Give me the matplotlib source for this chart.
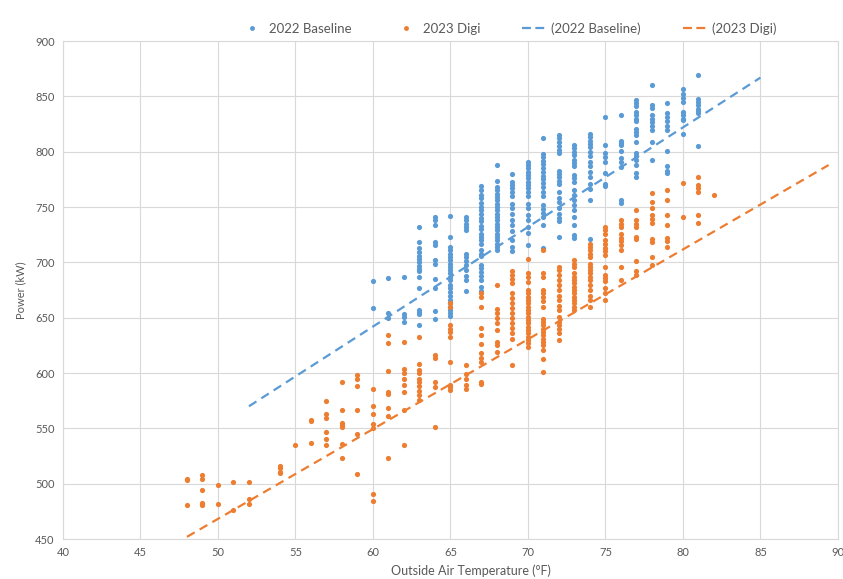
import matplotlib
matplotlib.use('Agg')
import matplotlib.pyplot as plt
from matplotlib.lines import Line2D

plt.rcParams['font.family'] = ['Lato', 'DejaVu Sans']

# outside air temperature (F) -> power readings (kW)
baseline_2022 = {
    60: [683, 659],
    61: [686, 654, 650],
    62: [687, 653, 651, 646],
    63: [732, 718, 713, 709, 706, 703, 700, 697, 694, 692, 687, 677, 657, 655, 653, 643],
    64: [741, 738, 734, 718, 716, 702, 699, 685, 677, 656, 649],
    65: [742, 723, 714, 711, 708, 705, 702, 699, 696, 693, 690, 687, 684, 680, 677, 673,
         670, 666, 663, 660, 657, 654, 652],
    66: [741, 738, 735, 732, 729, 708, 705, 701, 698, 693, 688, 684, 674],
    67: [769, 765, 761, 758, 754, 750, 747, 744, 740, 737, 733, 730, 726, 723, 720, 717,
         711, 708, 706, 698, 695, 691, 688, 684, 678, 674],
    68: [788, 774, 768, 765, 762, 759, 756, 753, 750, 747, 744, 741, 738, 735, 732, 729,
         726, 723, 720, 717, 714, 711],
    69: [780, 773, 770, 767, 764, 760, 753, 749, 744, 738, 734, 728, 720, 714, 710],
    70: [791, 788, 785, 782, 779, 776, 773, 770, 767, 764, 760, 753, 749, 743, 738, 732,
         727, 716],
    71: [812, 798, 795, 792, 789, 785, 782, 778, 775, 772, 768, 764, 760, 752, 748, 745,
         741, 734, 713],
    72: [815, 812, 809, 805, 802, 799, 783, 780, 777, 774, 771, 764, 758, 755, 749, 744,
         740, 737, 723],
    73: [806, 803, 800, 797, 793, 790, 787, 779, 776, 773, 765, 761, 756, 752, 747, 741,
         734, 725, 722],
    74: [816, 813, 810, 807, 804, 800, 796, 791, 787, 782, 777, 771, 766, 756, 721],
    75: [831, 806, 799, 795, 791, 781, 771, 769],
    76: [833, 810, 808, 806, 801, 794, 791, 786, 756, 754],
    77: [847, 844, 841, 836, 833, 830, 828, 821, 818, 815, 809, 799, 796, 793, 788, 781, 777],
    78: [860, 842, 840, 833, 830, 827, 823, 820, 809, 793],
    79: [844, 835, 831, 828, 823, 820, 801, 787, 783, 781],
    80: [857, 852, 849, 845, 836, 833, 830, 829, 816],
    81: [869, 848, 845, 842, 839, 837, 835, 805],
}

digi_2023 = {
    48: [504, 503, 481],
    49: [508, 504, 494, 483, 481, 482],
    50: [499, 482],
    51: [502, 476],
    52: [502, 486, 482],
    54: [516, 514, 510, 511],
    55: [535],
    56: [558, 557, 537],
    57: [575, 563, 559, 547, 540, 535],
    58: [592, 567, 555, 553, 551, 536, 523],
    59: [598, 595, 588, 567, 545, 509],
    60: [586, 570, 563, 554, 550, 491, 484],
    61: [634, 627, 602, 583, 581, 568, 561, 523],
    62: [628, 604, 600, 595, 589, 583, 567, 535],
    63: [633, 608, 603, 600, 595, 592, 588, 584, 580, 576],
    64: [616, 614, 592, 587, 551],
    65: [663, 660, 643, 640, 637, 633, 610, 589, 587, 585],
    66: [607, 599, 595, 589, 586],
    67: [672, 669, 660, 641, 634, 626, 618, 614, 610, 592, 590],
    68: [680, 658, 654, 650, 645, 639, 628, 625, 619],
    69: [692, 689, 685, 681, 672, 668, 663, 659, 654, 650, 645, 641, 636, 631, 607],
    70: [703, 690, 687, 682, 675, 672, 669, 666, 663, 660, 657, 654, 651, 648, 645, 642,
         639, 636, 633, 630, 627, 624],
    71: [711, 690, 687, 675, 672, 669, 665, 660, 649, 646, 643, 640, 637, 634, 631, 628,
         625, 621, 613, 601],
    72: [696, 693, 689, 684, 680, 675, 670, 666, 661, 657, 651, 646, 643, 640, 636, 630],
    73: [702, 699, 696, 690, 687, 684, 681, 678, 675, 672, 669, 666, 663, 660, 657],
    74: [717, 714, 711, 708, 705, 699, 696, 693, 690, 687, 684, 680, 675, 670, 666, 660],
    75: [732, 729, 726, 720, 717, 713, 710, 707, 696, 689, 686, 683, 677, 672, 666],
    76: [738, 735, 732, 726, 722, 719, 716, 711, 696, 684],
    77: [747, 738, 735, 732, 723, 721, 701, 692, 689],
    78: [763, 755, 749, 743, 739, 736, 721, 718, 705, 698],
    79: [765, 756, 743, 734, 722, 719, 714],
    80: [772, 741],
    81: [777, 770, 767, 764, 743, 736],
    82: [761],
}

# linear trendline end points as drawn
trend_2022_x = [52, 85]
trend_2022_y = [570, 867]
trend_2023_x = [48, 89.4]
trend_2023_y = [452, 788]

blue = '#5B9BD5'
orange = '#ED7D31'
grey = '#595959'


def flatten(d):
    xs, ys = [], []
    for t, vals in d.items():
        xs += [t] * len(vals)
        ys += vals
    return xs, ys


bx, by = flatten(baseline_2022)
ox, oy = flatten(digi_2023)

fig = plt.figure(figsize=(8.43, 5.79), dpi=100)
ax = fig.add_axes([0.0747, 0.069, 0.9193, 0.86])

ax.scatter(bx, by, s=14, color=blue, linewidths=0, zorder=3)
ax.scatter(ox, oy, s=14, color=orange, linewidths=0, zorder=3)
ax.plot(trend_2022_x, trend_2022_y, color=blue, lw=1.6, dashes=(4, 2.6), zorder=4)
ax.plot(trend_2023_x, trend_2023_y, color=orange, lw=1.6, dashes=(4, 2.6), zorder=4)

ax.set_xlim(40, 90)
ax.set_ylim(450, 900)
ax.set_xticks(range(40, 91, 5))
ax.set_yticks(range(450, 901, 50))
ax.grid(True, color='#d9d9d9', lw=0.8)
ax.set_axisbelow(True)
for s in ax.spines.values():
    s.set_color('#d9d9d9')
    s.set_linewidth(0.8)
ax.tick_params(length=0, colors=grey, labelsize=8, pad=6)

ax.set_xlabel('Outside Air Temperature (°F)', fontsize=9, color=grey)
ax.xaxis.set_label_coords(0.527, -0.052)
ax.set_ylabel('Power (kW)', fontsize=8, color=grey)
ax.yaxis.set_label_coords(-0.047, 0.5)

handles = [
    Line2D([], [], ls='none', marker='o', ms=3.5, color=blue, mew=0),
    Line2D([], [], ls='none', marker='o', ms=3.5, color=orange, mew=0),
    Line2D([], [], color=blue, lw=1.6, dashes=(4, 2)),
    Line2D([], [], color=orange, lw=1.6, dashes=(4, 2)),
]
labels = ['2022 Baseline', '2023 Digi', '(2022 Baseline)', '(2023 Digi)']
fig.legend(handles, labels, loc='center', bbox_to_anchor=(0.603, 0.951), ncol=4,
           frameon=False, fontsize=9.5, labelcolor=grey, handlelength=1.8,
           handletextpad=0.4, columnspacing=3.2)

fig.savefig('out.png', dpi=100)
